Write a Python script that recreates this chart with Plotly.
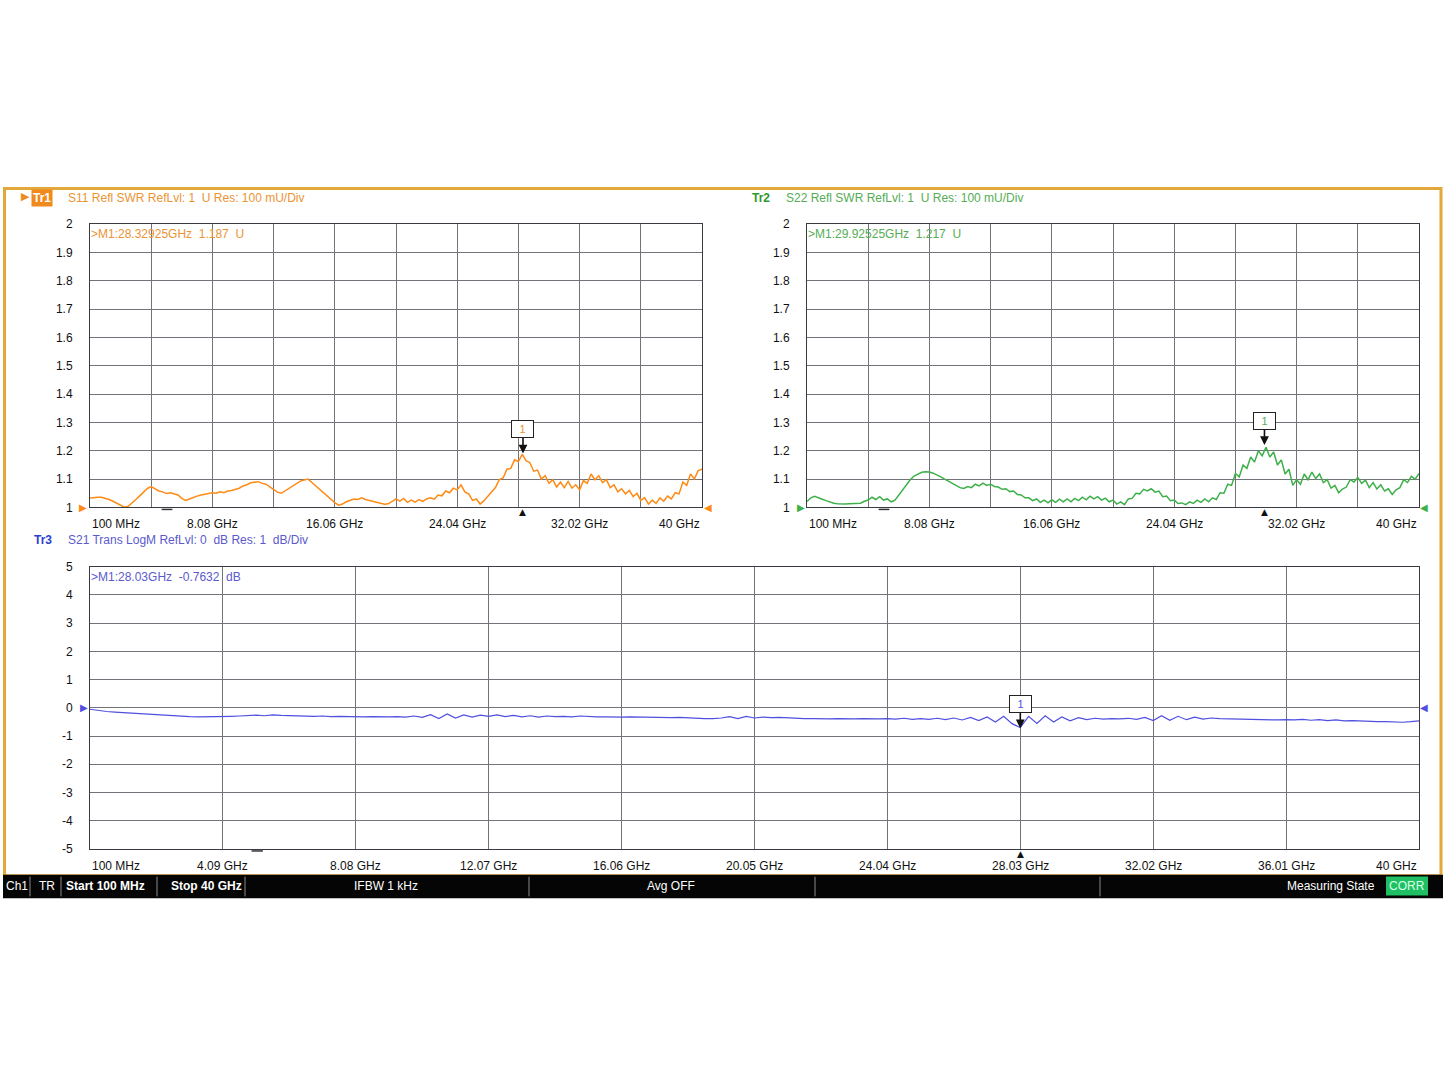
import numpy as np
import plotly.graph_objects as go

W, H = 1445, 1084

# ---------------- data ----------------
START_GHZ = 0.1
STOP_GHZ = 40.0
N_POINTS = 161
freq_ghz = np.linspace(START_GHZ, STOP_GHZ, N_POINTS)  # linear sweep points

s11_swr = [
    1.033, 1.035, 1.036, 1.036, 1.033, 1.028, 1.022, 1.014, 1.006, 1.001,
    1.004, 1.015, 1.028, 1.041, 1.055, 1.067, 1.074, 1.066, 1.058, 1.055,
    1.049, 1.052, 1.047, 1.044, 1.032, 1.025, 1.030, 1.036, 1.040, 1.044,
    1.046, 1.049, 1.052, 1.050, 1.055, 1.052, 1.058, 1.060, 1.064, 1.068,
    1.076, 1.080, 1.087, 1.089, 1.091, 1.085, 1.082, 1.073, 1.063, 1.054,
    1.050, 1.058, 1.067, 1.076, 1.085, 1.093, 1.097, 1.100, 1.088, 1.076,
    1.065, 1.052, 1.040, 1.028, 1.017, 1.008, 1.012, 1.020, 1.024, 1.030,
    1.028, 1.034, 1.028, 1.025, 1.022, 1.018, 1.015, 1.011, 1.013, 1.022,
    1.030, 1.022, 1.032, 1.018, 1.026, 1.019, 1.028, 1.021, 1.030, 1.034,
    1.029, 1.044, 1.041, 1.058, 1.052, 1.068, 1.062, 1.080, 1.055, 1.048,
    1.025, 1.030, 1.012, 1.024, 1.040, 1.058, 1.070, 1.098, 1.104, 1.135,
    1.138, 1.168, 1.162, 1.187, 1.165, 1.158, 1.128, 1.132, 1.100, 1.112,
    1.085, 1.098, 1.072, 1.090, 1.070, 1.092, 1.068, 1.080, 1.062, 1.095,
    1.085, 1.118, 1.098, 1.112, 1.088, 1.098, 1.070, 1.080, 1.055, 1.066,
    1.048, 1.060, 1.038, 1.050, 1.025, 1.035, 1.012, 1.026, 1.014, 1.034,
    1.022, 1.040, 1.030, 1.052, 1.048, 1.090, 1.078, 1.118, 1.100, 1.130,
    1.135,
]

s22_swr = [
    1.021, 1.034, 1.039, 1.035, 1.029, 1.024, 1.019, 1.015, 1.013, 1.012,
    1.012, 1.013, 1.014, 1.016, 1.015, 1.022, 1.026, 1.036, 1.028, 1.038,
    1.026, 1.030, 1.020, 1.026, 1.045, 1.064, 1.082, 1.098, 1.111, 1.119,
    1.124, 1.126, 1.125, 1.121, 1.115, 1.108, 1.100, 1.092, 1.085, 1.077,
    1.070, 1.067, 1.074, 1.070, 1.082, 1.076, 1.086, 1.078, 1.082, 1.074,
    1.072, 1.064, 1.066, 1.056, 1.058, 1.046, 1.044, 1.034, 1.034, 1.024,
    1.030, 1.018, 1.026, 1.016, 1.027, 1.018, 1.029, 1.020, 1.030, 1.020,
    1.032, 1.024, 1.036, 1.027, 1.040, 1.030, 1.038, 1.026, 1.033, 1.020,
    1.026, 1.012, 1.020, 1.010, 1.030, 1.032, 1.050, 1.048, 1.064, 1.058,
    1.066, 1.054, 1.058, 1.038, 1.040, 1.024, 1.026, 1.014, 1.016, 1.010,
    1.020, 1.014, 1.026, 1.018, 1.030, 1.020, 1.034, 1.028, 1.052, 1.050,
    1.082, 1.078, 1.120, 1.108, 1.150, 1.138, 1.178, 1.160, 1.200, 1.182,
    1.212, 1.178, 1.196, 1.150, 1.168, 1.118, 1.135, 1.078, 1.098, 1.082,
    1.118, 1.098, 1.125, 1.102, 1.118, 1.088, 1.098, 1.068, 1.078, 1.052,
    1.065, 1.072, 1.098, 1.090, 1.106, 1.085, 1.096, 1.070, 1.088, 1.065,
    1.080, 1.058, 1.066, 1.046, 1.062, 1.070, 1.098, 1.088, 1.110, 1.100,
    1.120,
]

s21_db = [
    -0.05, -0.10, -0.13, -0.15, -0.17, -0.19, -0.20, -0.22, -0.23, -0.25,
    -0.27, -0.29, -0.31, -0.32, -0.32, -0.32, -0.31, -0.30, -0.29, -0.27,
    -0.26, -0.28, -0.25, -0.27, -0.28, -0.29, -0.28, -0.30, -0.29, -0.31,
    -0.30, -0.31, -0.31, -0.32, -0.31, -0.32, -0.32, -0.31, -0.33, -0.29,
    -0.34, -0.24, -0.38, -0.22, -0.36, -0.25, -0.33, -0.26, -0.30, -0.25,
    -0.31, -0.27, -0.32, -0.28, -0.33, -0.29, -0.31, -0.30, -0.32, -0.29,
    -0.31, -0.32, -0.32, -0.33, -0.33, -0.32, -0.33, -0.34, -0.33, -0.34,
    -0.35, -0.34, -0.36, -0.37, -0.38, -0.38, -0.36, -0.31, -0.38, -0.30,
    -0.36, -0.33, -0.35, -0.34, -0.36, -0.37, -0.38, -0.38, -0.39, -0.39,
    -0.38, -0.39, -0.39, -0.38, -0.39, -0.39, -0.38, -0.40, -0.37, -0.41,
    -0.38, -0.41, -0.37, -0.42, -0.36, -0.43, -0.34, -0.45, -0.32, -0.50,
    -0.30, -0.56, -0.70, -0.30, -0.55, -0.28, -0.50, -0.32, -0.46, -0.35,
    -0.42, -0.37, -0.40, -0.38, -0.39, -0.37, -0.41, -0.34, -0.45, -0.28,
    -0.44, -0.30, -0.42, -0.33, -0.40, -0.36, -0.38, -0.39, -0.40, -0.40,
    -0.41, -0.41, -0.42, -0.43, -0.42, -0.43, -0.41, -0.44, -0.42, -0.45,
    -0.43, -0.46, -0.45, -0.47, -0.48, -0.49, -0.49, -0.50, -0.51, -0.49,
    -0.46,
]

top_xtick_vals = [0.1, 8.08, 16.06, 24.04, 32.02, 40.0]
top_xtick_text = ["100 MHz", "8.08 GHz", "16.06 GHz", "24.04 GHz", "32.02 GHz", "40 GHz"]
bot_xtick_vals = [0.1, 4.09, 8.08, 12.07, 16.06, 20.05, 24.04, 28.03, 32.02, 36.01, 40.0]
bot_xtick_text = ["100 MHz", "4.09 GHz", "8.08 GHz", "12.07 GHz", "16.06 GHz", "20.05 GHz",
                  "24.04 GHz", "28.03 GHz", "32.02 GHz", "36.01 GHz", "40 GHz"]
swr_ytick_vals = [1.0, 1.1, 1.2, 1.3, 1.4, 1.5, 1.6, 1.7, 1.8, 1.9, 2.0]
swr_ytick_text = ["1", "1.1", "1.2", "1.3", "1.4", "1.5", "1.6", "1.7", "1.8", "1.9", "2"]
db_ytick_vals = [-5, -4, -3, -2, -1, 0, 1, 2, 3, 4, 5]
db_ytick_text = ["-5", "-4", "-3", "-2", "-1", "0", "1", "2", "3", "4", "5"]

s11_marker = (28.32925, 1.187)
s22_marker = (29.92525, 1.217)
s21_marker = (28.03, -0.7632)
cursor_ghz = 5.12

NB = "\u00a0"

# ---------------- styles ----------------
ORANGE = "#FF8A14"
ORANGE_TXT = "#EB9433"
GREEN = "#3DB04A"
GREEN_TXT = "#55AD55"
GREEN_TR = "#2E9A2E"
BLUE = "#4F4FE0"
BLUE_TXT = "#5A5ACD"
BLUE_TR = "#2B3FCF"
GRID = "#72727A"
FRAME = "#E2A83A"
FONT = "Liberation Sans, Arial, sans-serif"
NARROW = "Liberation Sans Narrow, Arial Narrow, Liberation Sans, Arial, sans-serif"


def px(x):
    return x / W


def py(y):
    return 1 - y / H


fig = go.Figure()
fig.add_trace(go.Scatter(x=freq_ghz, y=s11_swr, mode="lines", xaxis="x", yaxis="y",
                         line=dict(color=ORANGE, width=1.5), showlegend=False))
fig.add_trace(go.Scatter(x=freq_ghz, y=s22_swr, mode="lines", xaxis="x2", yaxis="y2",
                         line=dict(color=GREEN, width=1.5), showlegend=False))
fig.add_trace(go.Scatter(x=freq_ghz, y=s21_db, mode="lines", xaxis="x3", yaxis="y3",
                         line=dict(color=BLUE, width=1.2), showlegend=False))

xcommon = dict(range=[START_GHZ, STOP_GHZ], tickmode="linear", tick0=START_GHZ, dtick=3.99,
               showticklabels=False, showgrid=True, gridcolor=GRID, gridwidth=1,
               showline=True, linecolor="#3A3A42", linewidth=1, mirror=True,
               zeroline=False, ticks="")
ycommon = dict(showgrid=True, gridcolor=GRID, gridwidth=1, showline=True, linecolor="#3A3A42",
               linewidth=1, mirror=True, zeroline=False, ticks="",
               tickfont=dict(family=FONT, size=12, color="#111111"), ticklabelstandoff=14)

top_y = [py(507), py(220)]
fig.update_layout(
    xaxis=dict(domain=[px(90), px(702)], anchor="y", **xcommon),
    yaxis=dict(domain=top_y, anchor="x", range=[1, 2], tickmode="array",
               tickvals=swr_ytick_vals, ticktext=swr_ytick_text, **ycommon),
    xaxis2=dict(domain=[px(807), px(1419)], anchor="y2", **xcommon),
    yaxis2=dict(domain=top_y, anchor="x2", range=[1, 2], tickmode="array",
                tickvals=swr_ytick_vals, ticktext=swr_ytick_text, **ycommon),
    xaxis3=dict(domain=[px(90), px(1419)], anchor="y3", **xcommon),
    yaxis3=dict(domain=[py(853), py(567)], anchor="x3", range=[-5, 5], tickmode="array",
                tickvals=db_ytick_vals, ticktext=db_ytick_text, **ycommon),
)

ann = []


def text(x, y, s, color, size=12, xanchor="left", family=FONT, **kw):
    ann.append(dict(x=x, y=y, xref="paper", yref="paper", text=s, showarrow=False,
                    xanchor=xanchor, yanchor="middle",
                    font=dict(family=family, size=size, color=color), **kw))


# x tick labels (placed at axis data positions)
for xr, vals, labels, ylab in (("x", top_xtick_vals, top_xtick_text, py(524)),
                               ("x2", top_xtick_vals, top_xtick_text, py(524)),
                               ("x3", bot_xtick_vals, bot_xtick_text, py(870))):
    for i, (v, t) in enumerate(zip(vals, labels)):
        anchor = "left" if i == 0 else ("right" if i == len(vals) - 1 else "center")
        ann.append(dict(x=v, y=ylab, xref=xr, yref="paper", text=t, showarrow=False,
                        xanchor=anchor, yanchor="middle",
                        font=dict(family=FONT, size=12, color="#111111")))

# headers
text(px(19), py(192), "▶", "#F08A1E", size=11, family="DejaVu Sans")
text(px(31), py(193), "<b>Tr1</b>", "white", size=12, bgcolor="#F08A1E", borderpad=1)
text(px(66), py(193), f"S11 Refl SWR RefLvl: 1{NB}{NB}U Res: 100 mU/Div", ORANGE_TXT)
text(px(750), py(193), "<b>Tr2</b>", GREEN_TR)
text(px(784), py(193), f"S22 Refl SWR RefLvl: 1{NB}{NB}U Res: 100 mU/Div", GREEN_TXT)
text(px(32), py(540), "<b>Tr3</b>", BLUE_TR)
text(px(66), py(540), f"S21 Trans LogM RefLvl: 0{NB}{NB}dB Res: 1{NB}{NB}dB/Div", BLUE_TXT)

# marker readouts
text(px(89), py(230), f">M1:{s11_marker[0]:.5f}GHz{NB}{NB}{s11_marker[1]:.3f}{NB}{NB}U", ORANGE_TXT)
text(px(806), py(230), f">M1:{s22_marker[0]:.5f}GHz{NB}{NB}{s22_marker[1]:.3f}{NB}{NB}U", GREEN_TXT)
text(px(89), py(577), f">M1:{s21_marker[0]:.2f}GHz{NB}{NB}{s21_marker[1]:.4f}{NB}{NB}dB", BLUE_TXT)

# marker boxes with arrows
for (mx, my), xr, yr, col in ((s11_marker, "x", "y", ORANGE_TXT),
                              (s22_marker, "x2", "y2", GREEN_TXT),
                              (s21_marker, "x3", "y3", BLUE)):
    ann.append(dict(x=mx, y=my, xref=xr, yref=yr, text="1", showarrow=True,
                    ax=0, ay=-25, arrowhead=2, arrowsize=1.1, arrowwidth=1.6,
                    arrowcolor="#111111", standoff=1,
                    bordercolor="#222222", borderwidth=1, bgcolor="white", borderpad=1,
                    width=19, height=14,
                    font=dict(family=FONT, size=11, color=col)))

# marker stimulus triangles below the axes
for mx, xr, yb in ((s11_marker[0], "x", py(512)), (s22_marker[0], "x2", py(512)),
                   (s21_marker[0], "x3", py(858))):
    ann.append(dict(x=mx, y=yb, xref=xr, yref="paper", text="▲", showarrow=False,
                    xanchor="center", yanchor="middle",
                    font=dict(family="DejaVu Sans", size=9, color="#111111")))

# reference level triangles
for xl, xrr, yr, lvl, col in ((83, 708, "y", 1.0, ORANGE), (801, 1424, "y2", 1.0, GREEN),
                              (84, 1424, "y3", 0.0, BLUE)):
    ann.append(dict(x=px(xl), y=lvl, xref="paper", yref=yr, text="▶", showarrow=False,
                    xanchor="center", yanchor="middle",
                    font=dict(family="DejaVu Sans", size=10, color=col)))
    ann.append(dict(x=px(xrr), y=lvl, xref="paper", yref=yr, text="◀", showarrow=False,
                    xanchor="center", yanchor="middle",
                    font=dict(family="DejaVu Sans", size=10, color=col)))

# status bar texts
text(px(17), py(891), "Ch1", "white", xanchor="center")
text(px(47), py(891), "TR", "white", xanchor="center")
text(px(105), py(891), "<b>Start 100 MHz</b>", "white", xanchor="center", family=NARROW, size=12)
text(px(206), py(891), "<b>Stop 40 GHz</b>", "white", xanchor="center", family=NARROW, size=12)
text(px(386), py(891), "IFBW 1 kHz", "white", xanchor="center", family=NARROW, size=12)
text(px(671), py(891), "Avg OFF", "white", xanchor="center", family=NARROW, size=12)
text(px(1331), py(891), "Measuring State", "white", xanchor="center", family=NARROW, size=12)
text(px(1407), py(891), "CORR", "#D8FFE8", xanchor="center", family=NARROW, size=12)

shapes = []
# outer gold frame
shapes.append(dict(type="rect", xref="paper", yref="paper", x0=px(4.5), x1=px(1441),
                   y0=py(880), y1=py(184), line=dict(color=FRAME, width=3), layer="below"))
# status bar
shapes.append(dict(type="rect", xref="paper", yref="paper", x0=px(3), x1=px(1443),
                   y0=py(903), y1=py(879), fillcolor="#050505", line=dict(width=0)))
for sx in (30, 61, 157, 245, 529, 815, 1100):
    shapes.append(dict(type="line", xref="paper", yref="paper", x0=px(sx), x1=px(sx),
                       y0=py(901), y1=py(881), line=dict(color="#8A8A8A", width=1)))
shapes.append(dict(type="rect", xref="paper", yref="paper", x0=px(1386), x1=px(1428),
                   y0=py(900), y1=py(881), fillcolor="#1FC063", line=dict(width=0)))
# small cursor dashes under the axes
for xr, ydash, half in (("x", py(509), 0.35), ("x2", py(509), 0.35), ("x3", py(855), 0.17)):
    shapes.append(dict(type="line", xref=xr, yref="paper", x0=cursor_ghz - half,
                       x1=cursor_ghz + half, y0=ydash, y1=ydash,
                       line=dict(color="#333333", width=1.5)))

fig.update_layout(
    width=W, height=H, margin=dict(l=0, r=0, t=0, b=0),
    paper_bgcolor="white", plot_bgcolor="white",
    showlegend=False, annotations=ann, shapes=shapes,
    font=dict(family=FONT, size=12),
)

fig.write_html("out.html", config={"displayModeBar": False},
               post_script="document.body.style.margin='0';document.body.style.padding='0';")
